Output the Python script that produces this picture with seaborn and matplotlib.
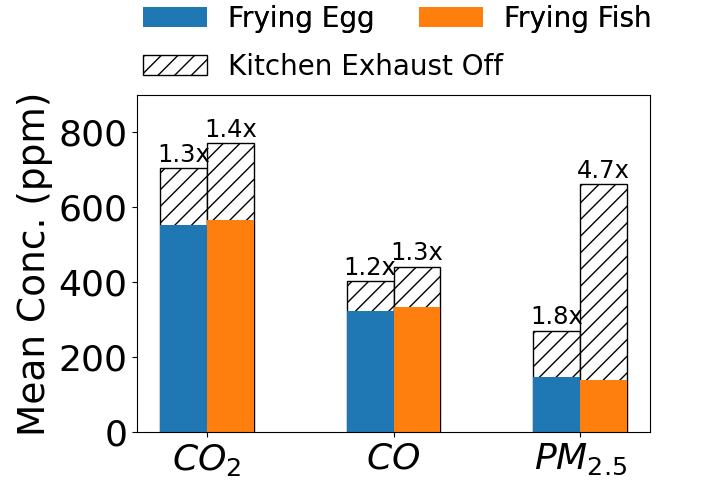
import matplotlib
matplotlib.use("Agg")
import matplotlib.pyplot as plt
import matplotlib.patches as mpatches
import pandas as pd
import seaborn as sns

# Mean concentrations (ppm) per pollutant
pollutants = [r"$CO_2$", r"$CO$", r"$PM_{2.5}$"]
cooking = ["Frying Egg", "Frying Fish"]
egg_exhaust_on = [553, 323, 147]
fish_exhaust_on = [567, 333, 140]
egg_exhaust_off = [704, 402, 271]
fish_exhaust_off = [771, 441, 662]

colors = ["#1f77b4", "#ff7f0e"]

df = pd.DataFrame({
    "pollutant": pollutants * 2,
    "cooking": [cooking[0]] * 3 + [cooking[1]] * 3,
    "on": egg_exhaust_on + fish_exhaust_on,
    "off": egg_exhaust_off + fish_exhaust_off,
})

fig = plt.figure(figsize=(7.1, 4.8), dpi=100)
ax = fig.add_axes([137 / 710, 48 / 480, 513 / 710, 337 / 480])

# hatched bars: concentration with the exhaust off
sns.barplot(data=df, x="pollutant", y="off", hue="cooking", hue_order=cooking,
            palette=["white", "white"], saturation=1, width=0.5, errorbar=None,
            edgecolor="black", linewidth=1, hatch="//", legend=False, ax=ax)
off_containers = list(ax.containers)

# solid bars: concentration with the exhaust on
sns.barplot(data=df, x="pollutant", y="on", hue="cooking", hue_order=cooking,
            palette=colors, saturation=1, width=0.5, errorbar=None,
            linewidth=0, legend=False, ax=ax)

# ratio labels above each hatched bar
ratio_sets = [(egg_exhaust_off, egg_exhaust_on), (fish_exhaust_off, fish_exhaust_on)]
for cont, (offs, ons) in zip(off_containers, ratio_sets):
    for bar, off, on in zip(cont.patches, offs, ons):
        ax.text(bar.get_x() + bar.get_width() / 2, off + 4, f"{off / on:.1f}x",
                ha="center", va="bottom", fontsize=17.5)

ax.set_xlim(-0.375, 2.375)
ax.set_ylim(0, 900)
ax.set_yticks([0, 200, 400, 600, 800])
ax.set_xticks(range(len(pollutants)))
ax.set_xticklabels(pollutants)
ax.tick_params(axis="both", labelsize=26)
ax.set_xlabel("")
ax.set_ylabel("Mean Conc. (ppm)", fontsize=27)

# legends above the axes
color_handles = [mpatches.Patch(facecolor=c, label=l) for c, l in zip(colors, cooking)]
leg1 = fig.legend(handles=color_handles, ncol=2, loc="upper left",
                  bbox_to_anchor=(143 / 710, 1 - 5 / 480), frameon=False, fontsize=20,
                  borderpad=0, borderaxespad=0, handlelength=2.3, handleheight=0.75,
                  columnspacing=1.6, handletextpad=0.75)
hatch_handle = [mpatches.Patch(facecolor="white", edgecolor="black", hatch="//",
                               label="Kitchen Exhaust Off")]
fig.legend(handles=hatch_handle, loc="upper left",
           bbox_to_anchor=(143 / 710, 1 - 53 / 480), frameon=False, fontsize=20,
           borderpad=0, borderaxespad=0, handlelength=2.3, handleheight=0.75,
           handletextpad=0.75)
fig.add_artist(leg1)

fig.savefig("out.png", dpi=100)
